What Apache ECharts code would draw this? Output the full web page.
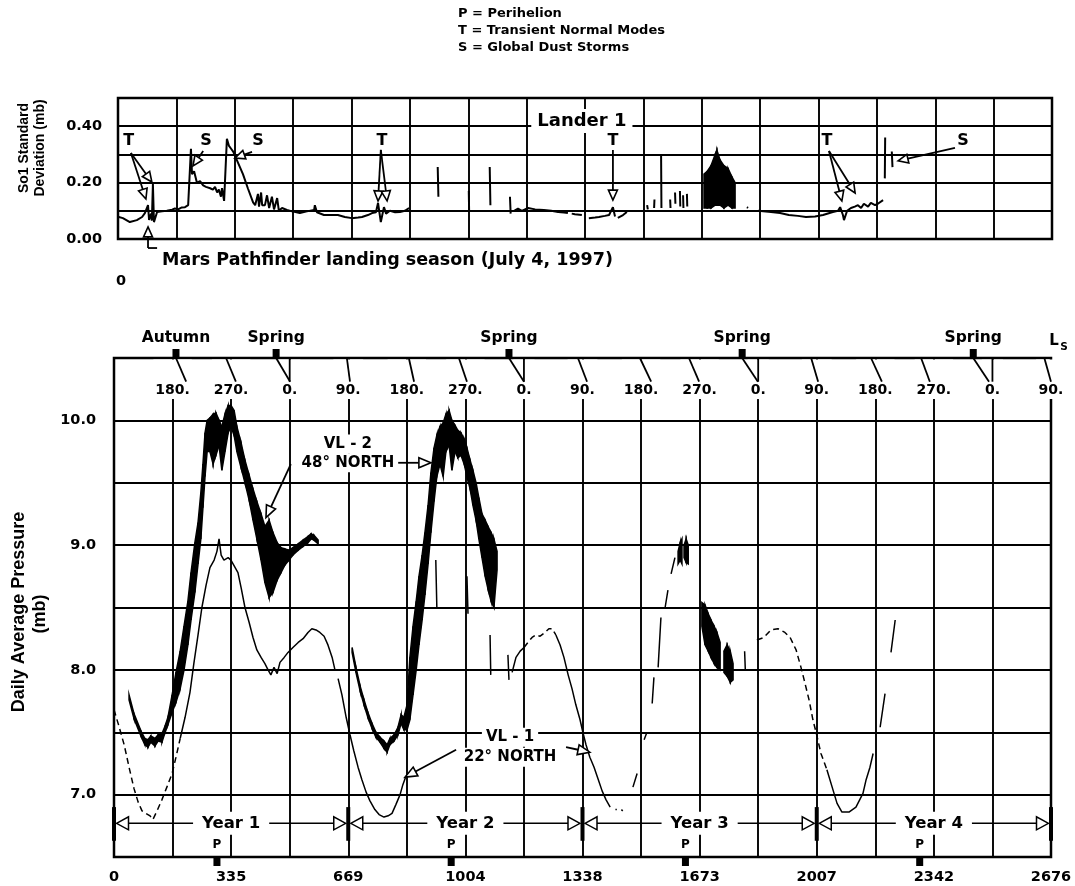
<!DOCTYPE html>
<html><head><meta charset="utf-8">
<script src="https://cdn.jsdelivr.net/npm/echarts@6/dist/echarts.min.js"></script>
<style>html,body{margin:0;padding:0;background:#fff}#c{width:1075px;height:886px}</style>
</head><body><div id="c"></div>
<script>
// ---------- axes / tick labels ----------
const XINT = 167.25;
const bottomTickLabels = ['0','','335','','669','','1004','','1338','','1673','','2007','','2342','','2676'];
const topYTickLabels = ['0.00','','0.20','','0.40',''];
const botYTickLabels = ['','7.0','','8.0','','9.0','','10.0',''];
const lsLabels = ['180.','270.','0.','90.','180.','270.','0.','90.','180.','270.','0.','90.','180.','270.','0.','90.'];
const lsTopDays = [177,320,463,665,842,985,1128,1325,1502,1642,1794,1991,2162,2305,2454,2657];
const lsFootDays = [206,348,503,674,857,1008,1171,1351,1534,1671,1839,2011,2193,2330,2499,2676];
const seasonLabels = ['Autumn','Spring','Spring','Spring','Spring'];
const seasonDays = [177,463,1128,1794,2454];
const yearLabels = ['Year 1','Year 2','Year 3','Year 4'];
const yearBounds = [0,669,1338,2007,2676];
const perihelionDays = [294,963,1632,2301];

// ---------- Lander 1 So1 standard deviation (mb) : [sol, value], null = gap ----------
const so1Trace = [[0,0.079],[14,0.074],[34,0.060],[54,0.067],[69,0.078],[77,0.092],[86,0.120],[89,0.068],[95,0.090],[97,0.065],[100,0.195],[103,0.060],[112,0.096],[126,0.098],[140,0.100],[155,0.104],[163,0.108],[172,0.105],[183,0.112],[192,0.113],[201,0.120],[206,0.120],[209,0.320],[212,0.230],[218,0.240],[226,0.200],[235,0.205],[244,0.190],[252,0.185],[264,0.180],[272,0.175],[278,0.185],[284,0.165],[289,0.175],[295,0.150],[298,0.180],[304,0.135],[307,0.130],[312,0.355],[318,0.330],[324,0.320],[330,0.310],[344,0.270],[358,0.230],[372,0.180],[387,0.130],[393,0.120],[398,0.120],[401,0.160],[404,0.115],[410,0.165],[413,0.120],[421,0.120],[427,0.155],[433,0.110],[441,0.150],[447,0.105],[456,0.145],[461,0.100],[470,0.110],[484,0.103],[499,0.098],[521,0.092],[541,0.098],[562,0.103],[564,0.120],[570,0.095],[590,0.085],[610,0.085],[630,0.085],[650,0.078],[670,0.074],[688,0.076],[699,0.078],[716,0.085],[728,0.092],[739,0.095],[745,0.128],[753,0.060],[762,0.113],[768,0.090],[779,0.100],[794,0.095],[808,0.096],[822,0.100],[834,0.110],null,
[916,0.255],[918,0.150],null,[1005,0.170],[1006,0.100],null,[1065,0.255],[1067,0.120],null,[1123,0.150],[1125,0.090],null,
[1135,0.100],[1146,0.108],[1157,0.100],[1175,0.110],[1195,0.105],[1220,0.103],[1241,0.100],[1261,0.096],[1278,0.094],[1289,0.092],null,[1300,0.090],[1309,0.088],[1329,0.085],null,
[1349,0.074],[1367,0.076],[1378,0.078],[1395,0.082],[1407,0.085],[1418,0.113],[1424,0.080],null,[1432,0.075],[1447,0.085],[1458,0.096],null,
[1516,0.120],[1518,0.105],null,[1536,0.110],[1537,0.140],null,[1556,0.300],[1557,0.110],null,[1582,0.140],[1583,0.110],null,[1596,0.165],[1597,0.125],null,[1610,0.170],[1611,0.115],null,[1619,0.155],[1620,0.110],null,[1630,0.160],[1631,0.115],null,
[1802,0.113],[1805,0.110],null,
[1834,0.100],[1837,0.103],[1871,0.096],[1897,0.092],[1922,0.085],[1948,0.082],[1971,0.078],[1997,0.080],[2020,0.085],[2048,0.096],[2063,0.100],[2069,0.113],[2077,0.085],[2080,0.067],[2089,0.100],[2100,0.110],[2111,0.115],[2120,0.120],[2129,0.110],[2137,0.125],[2149,0.115],[2157,0.128],[2169,0.120],[2177,0.125],[2192,0.138],null,
[2197,0.215],[2198,0.360],null,[2217,0.310],[2219,0.255]];
// noisy burst: [sol, low, high]
const so1Band = [[1679,0.11,0.23],[1688,0.11,0.24],[1699,0.11,0.26],[1711,0.12,0.30],[1716,0.12,0.315],[1725,0.12,0.28],[1736,0.11,0.26],[1748,0.12,0.25],[1759,0.11,0.22],[1768,0.11,0.20]];

// ---------- VL-2 daily average pressure envelope (mb): [sol, low, high] ----------
const vl2Band = [[43,7.76,7.80],[57,7.61,7.65],[77,7.47,7.51],[88,7.40,7.45],[97,7.38,7.44],[105,7.42,7.47],[117,7.39,7.45],[126,7.43,7.48],[137,7.42,7.49],[146,7.50,7.55],[154,7.56,7.62],[166,7.66,7.80],[177,7.74,7.98],[189,7.85,8.15],[200,8.00,8.35],[211,8.20,8.55],[220,8.40,8.78],[231,8.62,9.02],[240,8.85,9.18],[248,9.05,9.42],[254,9.30,9.65],[260,9.55,9.90],[266,9.75,10.00],[274,9.75,10.02],[283,9.65,10.05],[291,9.72,10.06],[300,9.80,10.00],[308,9.60,9.95],[317,9.75,10.05],[326,9.90,10.12],[334,9.95,10.12],[343,9.88,10.08],[351,9.75,9.95],[363,9.62,9.82],[374,9.50,9.68],[386,9.36,9.56],[397,9.20,9.45],[408,9.05,9.35],[420,8.88,9.25],[431,8.70,9.15],[443,8.58,9.20],[454,8.62,9.10],[466,8.72,9.02],[477,8.78,8.98],[488,8.84,8.97],[500,8.88,8.96],[511,8.92,8.98],[526,8.96,9.01],[540,8.99,9.04],[554,9.02,9.07],[563,9.05,9.09],[571,9.04,9.08],[583,9.01,9.04],null,
[680,8.14,8.18],[691,7.98,8.02],[703,7.83,7.87],[714,7.72,7.76],[725,7.62,7.66],[737,7.53,7.57],[748,7.46,7.50],[760,7.42,7.46],[771,7.37,7.43],[780,7.34,7.40],[788,7.40,7.45],[800,7.43,7.48],[811,7.48,7.54],[820,7.57,7.64],[828,7.52,7.62],[837,7.52,7.72],[845,7.60,8.10],[854,7.80,8.35],[863,8.00,8.55],[871,8.20,8.75],[880,8.40,8.92],[888,8.60,9.10],[897,8.85,9.32],[905,9.10,9.58],[914,9.35,9.78],[922,9.55,9.88],[931,9.65,9.95],[940,9.55,9.98],[948,9.75,10.05],[957,9.80,10.08],[965,9.60,10.00],[974,9.75,9.96],[982,9.70,9.92],[991,9.72,9.90],[1000,9.65,9.85],[1008,9.55,9.78],[1017,9.45,9.68],[1025,9.32,9.60],[1034,9.20,9.50],[1042,9.05,9.38],[1051,8.90,9.25],[1060,8.75,9.20],[1068,8.65,9.15],[1077,8.55,9.10],[1085,8.50,9.05],[1094,8.80,8.95]];

// ---------- VL-1 daily average pressure (mb): [sol, value] ----------
const vl1Solid = [[189,7.45],[203,7.62],[217,7.82],[228,8.05],[240,8.28],[251,8.50],[263,8.68],[274,8.82],[286,8.88],[294,8.95],[300,9.05],[306,8.92],[314,8.88],[326,8.90],[334,8.88],[346,8.82],[354,8.78],[363,8.66],[374,8.50],[386,8.38],[397,8.26],[408,8.16],[420,8.10],[431,8.05],[440,8.00],[448,7.96],[457,8.02],[466,7.97],[474,8.06],[486,8.10],[497,8.14],[511,8.18],[526,8.22],[540,8.25],[554,8.30],[565,8.33],[577,8.32],[588,8.30],[600,8.27],[611,8.20],[623,8.10],[631,8.00],null,
[640,7.93],[651,7.80],[663,7.62],[674,7.48],[685,7.35],[697,7.22],[708,7.12],[720,7.02],[731,6.95],[745,6.88],[757,6.84],[771,6.82],[783,6.83],[794,6.85],[805,6.92],[817,7.00],[825,7.08],[834,7.15],null,
[919,8.88],[922,8.50],null,[1008,8.75],[1011,8.45],null,[1074,8.28],[1076,7.96],null,[1125,8.12],[1128,7.92],null,
[1137,7.98],[1148,8.10],[1160,8.15],[1171,8.18],null,
[1262,8.28],[1274,8.20],[1285,8.10],[1297,7.96],[1308,7.85],[1319,7.72],[1331,7.60],[1339,7.50],[1348,7.40],[1359,7.30],[1371,7.22],[1382,7.13],[1394,7.03],[1405,6.96],[1417,6.90],null,
[1432,6.88],[1436,6.88],null,[1449,6.88],[1453,6.87],null,
[1482,7.06],[1494,7.17],null,[1514,7.44],[1522,7.50],null,[1537,7.73],[1542,7.94],null,[1554,8.02],[1562,8.42],null,[1574,8.50],[1582,8.64],null,[1591,8.77],[1602,8.90],null,
[1801,8.15],[1803,8.00],null,
[2036,7.20],[2051,7.06],[2065,6.93],[2079,6.86],[2099,6.86],[2119,6.90],[2139,7.01],[2148,7.12],[2159,7.22],[2168,7.33],null,
[2188,7.54],[2202,7.81],null,[2219,8.14],[2231,8.40]];
const vl1Dashed = [[0,7.68],[14,7.55],[29,7.40],[43,7.22],[57,7.05],[69,6.94],[80,6.87],[91,6.85],[103,6.83],[111,6.80],[123,6.87],[137,6.96],[151,7.06],[166,7.17],[177,7.30],[189,7.45],null,
[1171,8.18],[1182,8.22],[1194,8.26],[1205,8.28],[1217,8.27],[1231,8.30],[1242,8.33],[1251,8.33],[1262,8.28],null,
[1836,8.24],[1856,8.26],[1876,8.32],[1896,8.33],[1916,8.30],[1931,8.26],[1948,8.16],[1962,8.02],[1971,7.92],[1985,7.76],[1996,7.60],[2005,7.50],[2019,7.33],[2036,7.20]];
const vl1Band = [[1611,8.85,8.95],[1617,8.88,9.02],[1622,8.85,9.05],null,[1628,8.90,9.00],[1634,8.86,9.05],[1640,8.85,9.00],null,
[1679,8.35,8.54],[1688,8.20,8.52],[1697,8.15,8.45],[1705,8.10,8.40],[1714,8.05,8.35],[1722,8.02,8.30],[1731,8.00,8.22],null,[1742,7.98,8.15],[1751,7.95,8.20],[1760,7.90,8.15],[1768,7.92,8.05]];

// ---------- annotations (data units) ----------
const topNotes = [['T',31,0.348],['S',252,0.348],['S',401,0.348],['T',756,0.348],['T',1418,0.348],['T',2031,0.348],['S',2421,0.348]];
const topBoxNotes = [['Lander 1',1329,0.418]];
const topArrows = [[37,0.305,80,0.142],[37,0.305,97,0.202],[244,0.312,215,0.259],[384,0.309,335,0.287],[753,0.316,745,0.135],[753,0.316,771,0.135],[1418,0.316,1418,0.138],[2037,0.312,2074,0.135],[2037,0.312,2112,0.163],[2398,0.323,2235,0.277],[86,-0.032,86,0.043]];
const topPlainLines = [[86,-0.032,112,-0.032]];
const botNotes = [['VL - 2',668,9.81],['48° NORTH',668,9.66],['VL - 1',1131,7.46],['22° NORTH',1131,7.30]];
const botArrows = [[803,9.66,905,9.66],[505,9.65,434,9.22],[977,7.36,831,7.14],[1291,7.38,1359,7.34]];

// ---------- helpers ----------
const FF = "'DejaVu Sans'";
const bf = s => 'bold ' + s + 'px ' + FF;
const lineData = pts => pts.map(p => p ? p : [0, '-']);
const bandData = pts => pts.map(p => p ? p : [0, 0, 0]);

function bandSeries(pts, gi) {
  return {type:'custom', xAxisIndex:gi, yAxisIndex:gi, clip:false, z:3,
    data: bandData(pts), encode:{x:0, y:[1,2]},
    renderItem: function(params, api) {
      const i = params.dataIndex, a = pts[i], b = pts[i+1];
      if (!a || !b) return null;
      return {type:'polygon', shape:{points:[api.coord([a[0],a[2]]), api.coord([b[0],b[2]]), api.coord([b[0],b[1]]), api.coord([a[0],a[1]])]},
        style:{fill:'#000', stroke:'#000', lineWidth:1.5}};
    }};
}
function headPts(p1, p2, hl, hh) {
  const dx = p2[0]-p1[0], dy = p2[1]-p1[1], L = Math.hypot(dx, dy) || 1, ux = dx/L, uy = dy/L;
  const bx = p2[0]-ux*hl, by = p2[1]-uy*hl;
  return {base:[bx,by], tri:[[p2[0],p2[1]],[bx-uy*hh, by+ux*hh],[bx+uy*hh, by-ux*hh]]};
}
function arrowSeries(list, gi, hl, hh, withHead) {
  return {type:'custom', xAxisIndex:gi, yAxisIndex:gi, clip:false, z:6,
    data: list.map(a => a.slice()), encode:{x:[0,2], y:[1,3]},
    renderItem: function(params, api) {
      const a = list[params.dataIndex];
      const p1 = api.coord([a[0],a[1]]), p2 = api.coord([a[2],a[3]]);
      if (!withHead) return {type:'line', shape:{x1:p1[0],y1:p1[1],x2:p2[0],y2:p2[1]}, style:{stroke:'#000', lineWidth:1.8}};
      const h = headPts(p1, p2, hl, hh);
      return {type:'group', children:[
        {type:'line', shape:{x1:p1[0],y1:p1[1],x2:h.base[0],y2:h.base[1]}, style:{stroke:'#000', lineWidth:1.8}},
        {type:'polygon', shape:{points:h.tri}, style:{fill:'#fff', stroke:'#000', lineWidth:1.6}}
      ]};
    }};
}
function textSeries(list, gi, font, box) {
  return {type:'custom', xAxisIndex:gi, yAxisIndex:gi, clip:false, z:7,
    data: list.map(t => [t[1], t[2]]), encode:{x:0, y:1},
    renderItem: function(params, api) {
      const t = list[params.dataIndex], p = api.coord([t[1], t[2]]);
      const st = {text:t[0], font:font, fill:'#000', align:'center', verticalAlign:'middle'};
      if (box) { st.backgroundColor = '#fff'; st.padding = box; }
      return {type:'text', x:p[0], y:p[1], style:st};
    }};
}

// Ls (areocentric longitude) scale across top of the pressure panel
const lsSeries = {type:'custom', xAxisIndex:1, yAxisIndex:1, clip:false, z:5,
  data: lsLabels.map((l, i) => [(i+1)*XINT, 10.4]), encode:{x:0, y:1},
  renderItem: function(params, api) {
    const i = params.dataIndex, lab = lsLabels[i];
    const frameY = api.coord([0, 10.5])[1];
    const g = api.coord([(i+1)*XINT, 10.243]);
    const top = api.coord([lsTopDays[i], 10.5]);
    const foot = api.coord([lsFootDays[i], 10.31]);
    const w = lab.length * 8.6 + 4;
    const ch = [
      {type:'rect', shape:{x:g[0]-w/2, y:frameY+1.6, width:w, height:g[1]+9-frameY-1.6}, style:{fill:'#fff'}},
      {type:'text', x:g[0], y:g[1], style:{text:lab, font:bf(14), fill:'#000', align:'center', verticalAlign:'middle'}},
      {type:'line', shape:{x1:top[0], y1:frameY, x2:foot[0], y2:foot[1]}, style:{stroke:'#000', lineWidth:1.8}}
    ];
    if (lab === '0.') ch.push({type:'line', shape:{x1:g[0], y1:frameY, x2:g[0], y2:foot[1]}, style:{stroke:'#000', lineWidth:1.8}});
    return {type:'group', children:ch};
  }};
const seasonSeries = {type:'custom', xAxisIndex:1, yAxisIndex:1, clip:false, z:6,
  data: seasonDays.map(d => [d, 10.66]), encode:{x:0, y:1},
  renderItem: function(params, api) {
    const i = params.dataIndex;
    const f = api.coord([seasonDays[i], 10.5]);
    const t = api.coord([seasonDays[i], 10.66]);
    return {type:'group', children:[
      {type:'rect', shape:{x:f[0]-3.5, y:f[1]-9, width:7, height:9}, style:{fill:'#000'}},
      {type:'text', x:t[0], y:t[1], style:{text:seasonLabels[i], font:bf(15.5), fill:'#000', align:'center', verticalAlign:'middle'}}
    ]};
  }};
const YROW = 6.77;
const yearSeries = {type:'custom', xAxisIndex:1, yAxisIndex:1, clip:false, z:6,
  data: yearLabels.map((l, i) => [yearBounds[i], YROW]), encode:{x:0, y:1},
  renderItem: function(params, api) {
    const i = params.dataIndex;
    const s = api.coord([yearBounds[i], YROW]), e = api.coord([yearBounds[i+1], YROW]);
    const m = api.coord([(yearBounds[i]+yearBounds[i+1])/2, YROW]);
    const o = 2.5, HL = 12, HH = 6.5, y = s[1];
    return {type:'group', children:[
      {type:'line', shape:{x1:s[0]+o+HL, y1:y, x2:e[0]-o-HL, y2:y}, style:{stroke:'#000', lineWidth:1.6}},
      {type:'polygon', shape:{points:[[s[0]+o,y],[s[0]+o+HL,y-HH],[s[0]+o+HL,y+HH]]}, style:{fill:'#fff', stroke:'#000', lineWidth:1.5}},
      {type:'polygon', shape:{points:[[e[0]-o,y],[e[0]-o-HL,y-HH],[e[0]-o-HL,y+HH]]}, style:{fill:'#fff', stroke:'#000', lineWidth:1.5}},
      {type:'text', x:m[0], y:m[1], style:{text:yearLabels[i], font:bf(16.5), fill:'#000', align:'center', verticalAlign:'middle', backgroundColor:'#fff', padding:[3,9,3,9]}}
    ]};
  }};
const boundSeries = {type:'custom', xAxisIndex:1, yAxisIndex:1, clip:false, z:7,
  data: yearBounds.map(d => [d, YROW]), encode:{x:0, y:1},
  renderItem: function(params, api) {
    const d = yearBounds[params.dataIndex];
    const a = api.coord([d, 6.90]), b = api.coord([d, 6.63]);
    return {type:'rect', shape:{x:a[0]-2, y:a[1], width:4, height:b[1]-a[1]}, style:{fill:'#000'}};
  }};
const periSeries = {type:'custom', xAxisIndex:1, yAxisIndex:1, clip:false, z:7,
  data: perihelionDays.map(d => [d, 6.596]), encode:{x:0, y:1},
  renderItem: function(params, api) {
    const d = perihelionDays[params.dataIndex];
    const t = api.coord([d, 6.596]), f = api.coord([d, 6.5]);
    return {type:'group', children:[
      {type:'text', x:t[0], y:t[1], style:{text:'P', font:bf(12), fill:'#000', align:'center', verticalAlign:'middle', backgroundColor:'#fff', padding:[1,1,1,1]}},
      {type:'rect', shape:{x:f[0]-3.5, y:f[1], width:7, height:9}, style:{fill:'#000'}}
    ]};
  }};

const gridLine = {show:true, lineStyle:{color:'#000', width:1.9}};
const axLab = {fontFamily:FF, fontWeight:'bold', fontSize:14.5, color:'#000'};

const option = {
  animation:false,
  backgroundColor:'#fff',
  grid:[
    {left:118, top:98, width:934, height:141, show:true, borderColor:'#000', borderWidth:2.5, backgroundColor:'transparent'},
    {left:114, top:358, width:937, height:499, show:true, borderColor:'#000', borderWidth:2.5, backgroundColor:'transparent'}
  ],
  xAxis:[
    {gridIndex:0, type:'value', min:0, max:2676, interval:XINT, axisLine:{show:false}, axisTick:{show:false}, axisLabel:{show:false}, splitLine:gridLine},
    {gridIndex:1, type:'value', min:0, max:2676, interval:XINT, axisLine:{show:false}, axisTick:{show:false}, splitLine:gridLine,
      axisLabel:Object.assign({margin:13, formatter:v => bottomTickLabels[Math.round(v/XINT)] || ''}, axLab)}
  ],
  yAxis:[
    {gridIndex:0, type:'value', min:0, max:0.5, interval:0.1, axisLine:{show:false}, axisTick:{show:false}, splitLine:gridLine,
      axisLabel:Object.assign({margin:16, formatter:v => topYTickLabels[Math.round(v/0.1)] || ''}, axLab)},
    {gridIndex:1, type:'value', min:6.5, max:10.5, interval:0.5, axisLine:{show:false}, axisTick:{show:false}, splitLine:gridLine,
      axisLabel:Object.assign({margin:18, formatter:v => botYTickLabels[Math.round((v-6.5)/0.5)] || ''}, axLab)}
  ],
  graphic:[
    {type:'text', x:458, y:14, style:{text:'P = Perihelion', font:bf(13), fill:'#000', align:'left', verticalAlign:'middle'}},
    {type:'text', x:458, y:31, style:{text:'T = Transient Normal Modes', font:bf(13), fill:'#000', align:'left', verticalAlign:'middle'}},
    {type:'text', x:458, y:48, style:{text:'S = Global Dust Storms', font:bf(13), fill:'#000', align:'left', verticalAlign:'middle'}},
    {type:'text', x:24, y:148, rotation:Math.PI/2, style:{text:'So1 Standard', font:"bold 14px 'Liberation Sans'", fill:'#000', align:'center', verticalAlign:'middle'}},
    {type:'text', x:40, y:148, rotation:Math.PI/2, style:{text:'Deviation (mb)', font:"bold 14px 'Liberation Sans'", fill:'#000', align:'center', verticalAlign:'middle'}},
    {type:'text', x:19, y:612, rotation:Math.PI/2, style:{text:'Daily Average Pressure', font:"bold 18px 'Liberation Sans'", fill:'#000', align:'center', verticalAlign:'middle'}},
    {type:'text', x:40, y:614, rotation:Math.PI/2, style:{text:'(mb)', font:"bold 18px 'Liberation Sans'", fill:'#000', align:'center', verticalAlign:'middle'}},
    {type:'text', x:121, y:281, style:{text:'0', font:bf(14.5), fill:'#000', align:'center', verticalAlign:'middle'}},
    {type:'text', x:162, y:260, style:{text:'Mars Pathfinder landing season (July 4, 1997)', font:bf(17.5), fill:'#000', align:'left', verticalAlign:'middle'}},
    {type:'text', x:1054, y:341, style:{text:'L', font:bf(15), fill:'#000', align:'center', verticalAlign:'middle'}},
    {type:'text', x:1064, y:347, style:{text:'S', font:bf(10.5), fill:'#000', align:'center', verticalAlign:'middle'}}
  ],
  series:[
    {type:'line', xAxisIndex:0, yAxisIndex:0, data:lineData(so1Trace), symbol:'none', connectNulls:false, lineStyle:{color:'#000', width:2}, z:3},
    bandSeries(so1Band, 0),
    bandSeries(vl2Band, 1),
    {type:'line', xAxisIndex:1, yAxisIndex:1, data:lineData(vl1Solid), symbol:'none', connectNulls:false, lineStyle:{color:'#000', width:1.5}, z:3},
    {type:'line', xAxisIndex:1, yAxisIndex:1, data:lineData(vl1Dashed), symbol:'none', connectNulls:false, lineStyle:{color:'#000', width:1.5, type:[6,4]}, z:3},
    bandSeries(vl1Band, 1),
    arrowSeries(topArrows, 0, 10, 4.5, true),
    arrowSeries(topPlainLines, 0, 0, 0, false),
    textSeries(topNotes, 0, bf(16), null),
    textSeries(topBoxNotes, 0, bf(18), [3,6,3,6]),
    arrowSeries(botArrows, 1, 12, 5, true),
    textSeries(botNotes, 1, bf(15), [2,4,2,4]),
    lsSeries, seasonSeries, yearSeries, boundSeries, periSeries
  ]
};
const chart = echarts.init(document.getElementById('c'), null, {renderer:'canvas'});
chart.setOption(option);
</script></body></html>
